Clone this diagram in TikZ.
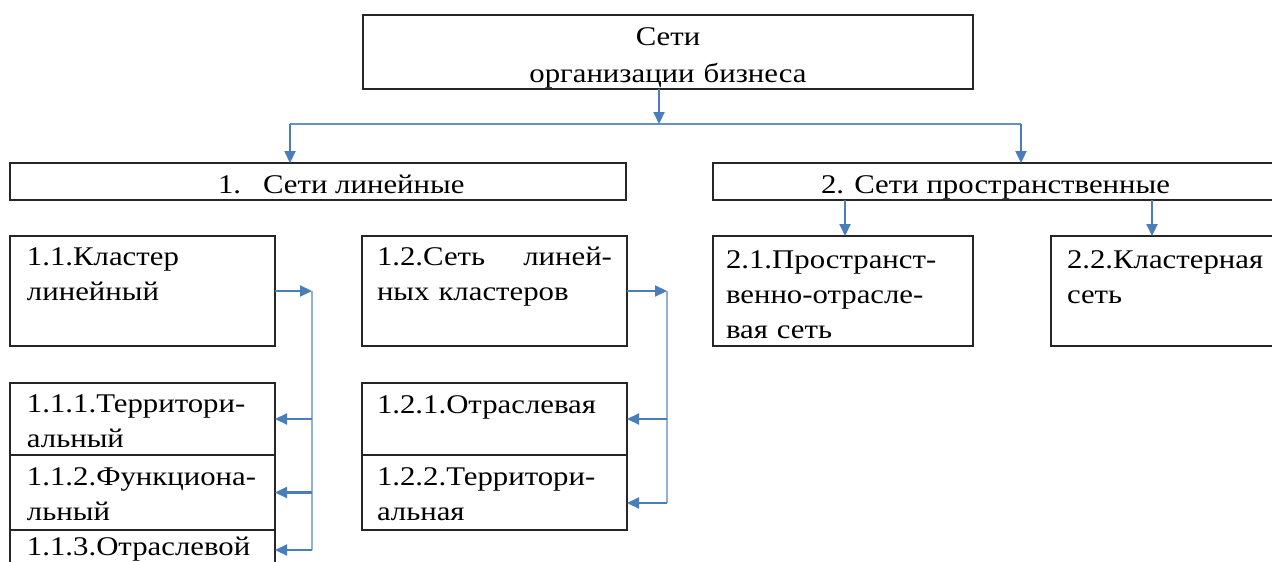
\documentclass[tikz,border=0pt]{standalone}
\usepackage{fontspec}
\setmainfont{Liberation Serif}[FakeStretch=1.14]
\usetikzlibrary{arrows.meta}
\definecolor{arr}{HTML}{4A7EBB}
\definecolor{vline}{HTML}{93B1D8}
\begin{document}
\begin{tikzpicture}[x=1pt,y=-1pt,
  box/.style={draw=black!85, line width=2pt, anchor=north west, inner sep=0pt, outer sep=0pt},
  txt/.style={anchor=base west, inner sep=0pt, outer sep=0pt, font=\fontsize{27}{35}\selectfont},
  arrow/.style={draw=arr, line width=2.2pt, -{Triangle[length=12pt,width=11pt]}},
  link/.style={draw=arr!85, line width=2pt},
  rail/.style={draw=vline, line width=2.2pt}]
\useasboundingbox (0,0) rectangle (1272,562);
% boxes
\node[box, minimum width=610pt, minimum height=74pt] (top) at (363,15) {};
\node[box, minimum width=616pt, minimum height=37pt] (b1) at (10,163) {};
\node[box, minimum width=580pt, minimum height=37pt] (b2) at (713,163) {};
\node[box, minimum width=265pt, minimum height=110pt] (b11) at (10,236) {};
\node[box, minimum width=265pt, minimum height=110pt] (b12) at (362,236) {};
\node[box, minimum width=260pt, minimum height=110pt] (b21) at (713,236) {};
\node[box, minimum width=240pt, minimum height=110pt] (b22) at (1051,236) {};
\node[box, minimum width=265pt, minimum height=72pt] (b111) at (10,383) {};
\node[box, minimum width=265pt, minimum height=75pt] (b112) at (10,455) {};
\node[box, minimum width=265pt, minimum height=45pt] (b113) at (10,530) {};
\node[box, minimum width=265pt, minimum height=72pt] (b121) at (362,383) {};
\node[box, minimum width=265pt, minimum height=75pt] (b122) at (362,455) {};
% texts
\node[txt, text width=610pt, align=center, anchor=base, font=\fontsize{27}{37}\selectfont] (ttop) at (668,45) {Сети\\организации бизнеса};
\node[txt] (t1) at (218,193) {1.\hspace{22pt}Сети линейные};
\node[txt] (t2) at (821,193) {2. Сети пространственные};
\node[txt, text width=250pt] (t11) at (27,265) {1.1.Кластер\\линейный};
\node[txt, text width=235pt] (t12) at (377,265) {1.2.Сеть\hfill линей-\\ных кластеров};
\node[txt, text width=250pt] (t21) at (726,268) {2.1.Пространст-\\венно-отрасле-\\вая сеть};
\node[txt, text width=250pt] (t22) at (1067,268) {2.2.Кластерная\\сеть};
\node[txt, text width=250pt] (t111) at (27,412) {1.1.1.Территори-\\альный};
\node[txt, text width=250pt] (t112) at (27,485) {1.1.2.Функциона-\\льный};
\node[txt, text width=250pt] (t113) at (27,555) {1.1.3.Отраслевой};
\node[txt, text width=250pt] (t121) at (377,413) {1.2.1.Отраслевая};
\node[txt, text width=250pt] (t122) at (377,485) {1.2.2.Территори-\\альная};
% top connectors
\coordinate (j) at (659,124);
\coordinate (jl) at (290,124);
\coordinate (jr) at (1021,124);
\draw[link] (jl) -- (jr);
\draw[arrow] (top.south -| j) -- (j);
\draw[arrow] (jl) -- (jl |- b1.north);
\draw[arrow] (jr) -- (jr |- b2.north);
% level 2 connectors
\coordinate (c21) at (845,0);
\coordinate (c22) at (1152,0);
\draw[arrow] (b2.south -| c21) -- (b21.north -| c21);
\draw[arrow] (b2.south -| c22) -- (b22.north -| c22);
% left rail
\coordinate (rl) at (312,0);
\coordinate (rlb) at (312,550);
\draw[rail] (b11.east -| rl) -- (rlb);
\draw[arrow] (b11.east) -- (b11.east -| rl);
\draw[arrow] (b111.east -| rl) -- (b111.east);
\draw[arrow] (b112.east -| rl) -- (b112.east);
\draw[arrow] (rlb) -- (rlb -| b113.east);
% right rail
\coordinate (rr) at (667,0);
\coordinate (rrb) at (667,503);
\draw[rail] (b12.east -| rr) -- (rrb);
\draw[arrow] (b12.east) -- (b12.east -| rr);
\draw[arrow] (b121.east -| rr) -- (b121.east);
\draw[arrow] (rrb) -- (rrb -| b122.east);
\end{tikzpicture}
\end{document}
